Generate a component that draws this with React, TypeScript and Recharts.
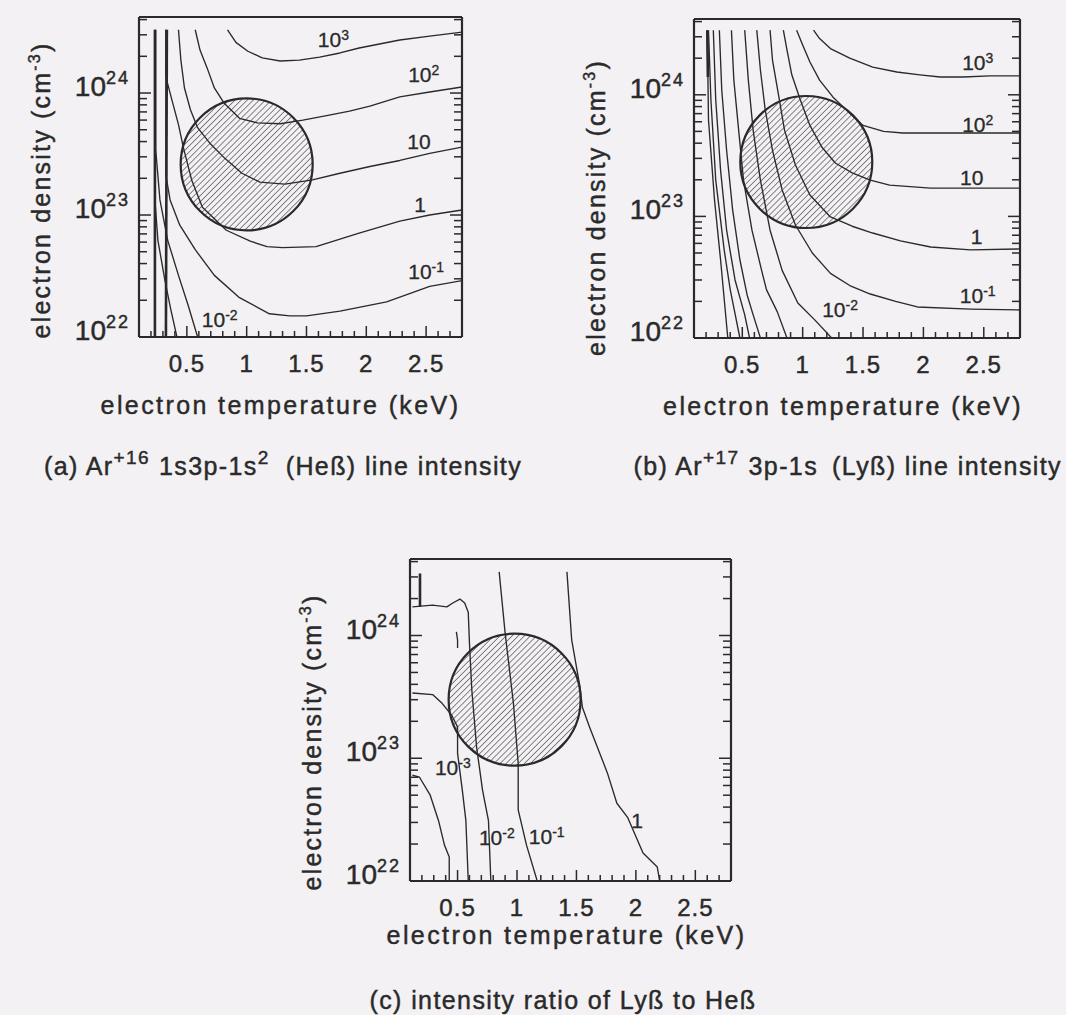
import React from 'react';
import { LineChart, Line, XAxis, YAxis, ReferenceDot } from 'recharts';

type Pt = [number, number]; // [electron temperature keV, electron density cm^-3]

const FONT = '"Liberation Sans", Arial, Helvetica, sans-serif';
const INK = '#2a2a2a';
const PAPER = '#f3f1f3';

// ---- axes ----
const T_DOMAIN: [number, number] = [0.1, 2.8];
const N_DOMAIN: [number, number] = [1e22, 4.2e24];
const T_TICKS = [0.2, 0.3, 0.4, 0.5, 0.6, 0.7, 0.8, 0.9, 1, 1.1, 1.2, 1.3, 1.4, 1.5, 1.6, 1.7, 1.8, 1.9, 2, 2.1, 2.2, 2.3, 2.4, 2.5, 2.6, 2.7];
const T_MAJOR = [0.5, 1, 1.5, 2, 2.5];
const T_LABELS = ['0.5', '1', '1.5', '2', '2.5'];
const N_TICKS = [
  1e22, 2e22, 3e22, 4e22, 5e22, 6e22, 7e22, 8e22, 9e22,
  1e23, 2e23, 3e23, 4e23, 5e23, 6e23, 7e23, 8e23, 9e23,
  1e24, 2e24, 3e24, 4e24,
];
const N_DECADES = [1e22, 1e23, 1e24];
const N_EXPONENTS = ['22', '23', '24'];

// ---- (a) Ar+16 1s3p-1s2 (He-beta) line intensity contours ----
const A_1E3: Pt[] = [[0.84, 3.3e24], [0.91, 2.6e24], [1.01, 2.2e24], [1.13, 1.94e24], [1.28, 1.83e24], [1.44, 1.86e24], [1.61, 1.97e24], [1.78, 2.13e24], [1.94, 2.34e24], [2.28, 2.72e24], [2.53, 2.93e24], [2.8, 3.16e24]];
const A_1E2: Pt[] = [[0.57, 3.3e24], [0.61, 2.25e24], [0.67, 1.6e24], [0.73, 1.1e24], [0.81, 8.3e23], [0.94, 6.2e23], [1.09, 5.7e23], [1.28, 5.6e23], [1.47, 6.0e23], [1.69, 6.6e23], [1.86, 7.1e23], [2.03, 7.8e23], [2.28, 9.3e23], [2.53, 1.02e24], [2.8, 1.12e24]];
const A_1E1: Pt[] = [[0.43, 3.3e24], [0.45, 1.86e24], [0.48, 1.1e24], [0.53, 7.3e23], [0.59, 5.2e23], [0.69, 3.9e23], [0.82, 2.9e23], [0.96, 2.2e23], [1.11, 1.86e23], [1.32, 1.79e23], [1.55, 1.94e23], [1.78, 2.2e23], [2.03, 2.5e23], [2.28, 2.8e23], [2.53, 3.2e23], [2.8, 3.6e23]];
const A_1E0: Pt[] = [[0.325, 3.3e24], [0.325, 1.35e24], [0.375, 8.8e23], [0.43, 5.5e23], [0.47, 3.6e23], [0.54, 1.94e23], [0.63, 1.16e23], [0.83, 7.5e22], [1.03, 6.1e22], [1.17, 5.5e22], [1.3, 5.4e22], [1.58, 5.5e22], [1.94, 7.1e22], [2.28, 8.9e22], [2.53, 1.0e23], [2.8, 1.1e23]];
const A_1EM1: Pt[] = [[0.325, 3.3e24], [0.325, 2.1e23], [0.36, 1.33e23], [0.44, 8.3e22], [0.57, 5.2e22], [0.73, 3.2e22], [0.94, 2.1e22], [1.19, 1.55e22], [1.36, 1.49e22], [1.5, 1.49e22], [1.78, 1.63e22], [2.17, 1.94e22], [2.53, 2.6e22], [2.8, 2.9e22]];
const A_1EM2: Pt[] = [[0.24, 3.3e24], [0.24, 3.4e23], [0.275, 1.33e23], [0.34, 6.2e22], [0.43, 3.2e22], [0.51, 1.83e22], [0.59, 1.0e22]];
const A_1EM3: Pt[] = [[0.233, 3.3e24], [0.233, 1.33e23], [0.258, 6.2e22], [0.317, 2.9e22], [0.367, 1.66e22], [0.417, 1.0e22]];
const A_EDGE1: Pt[] = [[0.233, 3.3e24], [0.233, 1.0e22]];
const A_EDGE2: Pt[] = [[0.333, 3.3e24], [0.325, 1.0e22]];

// ---- (b) Ar+17 3p-1s (Ly-beta) line intensity contours ----
const B_1E3: Pt[] = [[1.09, 3.4e24], [1.14, 2.9e24], [1.23, 2.4e24], [1.39, 2.0e24], [1.58, 1.69e24], [1.78, 1.54e24], [1.97, 1.46e24], [2.14, 1.4e24], [2.33, 1.4e24], [2.55, 1.43e24], [2.8, 1.43e24]];
const B_1E2: Pt[] = [[0.95, 3.4e24], [1.0, 2.57e24], [1.06, 1.86e24], [1.14, 1.32e24], [1.25, 9.6e23], [1.38, 7.2e23], [1.5, 5.6e23], [1.67, 5.0e23], [1.83, 4.85e23], [2.22, 4.85e23], [2.8, 4.85e23]];
const B_1E1: Pt[] = [[0.84, 3.4e24], [0.87, 2.34e24], [0.91, 1.46e24], [0.98, 9.1e23], [1.06, 5.6e23], [1.16, 3.7e23], [1.27, 2.75e23], [1.41, 2.28e23], [1.56, 1.99e23], [1.72, 1.81e23], [2.06, 1.71e23], [2.8, 1.71e23]];
const B_1E0: Pt[] = [[0.73, 3.4e24], [0.75, 1.93e24], [0.8, 1.0e24], [0.85, 5.1e23], [0.94, 2.65e23], [1.06, 1.5e23], [1.23, 9.9e22], [1.41, 8.3e22], [1.58, 7.3e22], [1.81, 6.3e22], [2.06, 5.6e22], [2.39, 5.3e22], [2.8, 5.4e22]];
const B_1EM1: Pt[] = [[0.62, 3.4e24], [0.65, 1.6e24], [0.69, 7.5e23], [0.75, 3.5e23], [0.83, 1.65e23], [0.94, 8.5e22], [1.08, 5.0e22], [1.23, 3.4e22], [1.39, 2.7e22], [1.56, 2.3e22], [1.77, 2.0e22], [1.95, 1.8e22], [2.39, 1.73e22], [2.8, 1.7e22]];
const B_1EM2: Pt[] = [[0.52, 3.4e24], [0.55, 1.32e24], [0.59, 5.1e23], [0.65, 1.99e23], [0.73, 7.7e22], [0.83, 3.6e22], [0.96, 1.94e22], [1.1, 1.41e22], [1.24, 1.0e22]];
const B_1EM3: Pt[] = [[0.41, 3.4e24], [0.43, 1.32e24], [0.47, 5.1e23], [0.51, 1.99e23], [0.58, 7.7e22], [0.66, 3.6e22], [0.7, 2.5e22], [0.79, 1.64e22], [0.87, 1.0e22]];
const B_1EM4: Pt[] = [[0.31, 3.4e24], [0.33, 1.09e24], [0.37, 3.5e23], [0.42, 1.13e23], [0.48, 4.4e22], [0.54, 2.26e22], [0.59, 1.55e22], [0.65, 1.0e22]];
const B_1EM5: Pt[] = [[0.26, 3.4e24], [0.28, 9.1e23], [0.32, 2.4e23], [0.37, 7.7e22], [0.44, 3.0e22], [0.52, 1.55e22], [0.56, 1.0e22]];
const B_1EM6: Pt[] = [[0.22, 3.4e24], [0.24, 9.1e23], [0.28, 1.99e23], [0.35, 5.3e22], [0.4, 2.5e22], [0.48, 1.0e22]];
const B_1EM7: Pt[] = [[0.21, 3.4e24], [0.22, 6.2e23], [0.27, 1.36e23], [0.32, 4.4e22], [0.38, 1.0e22]];
const B_EDGE: Pt[] = [[0.21, 3.4e24], [0.215, 1.4e24]];

// ---- (c) Ly-beta / He-beta intensity ratio contours ----
const C_1E0: Pt[] = [[1.42, 3.3e24], [1.46, 9.2e23], [1.53, 3.8e23], [1.55, 2.6e23], [1.61, 1.8e23], [1.76, 7.6e22], [1.84, 4.3e22], [1.93, 3.3e22], [2.06, 1.69e22], [2.18, 1.3e22], [2.2, 1.0e22]];
const C_1EM1: Pt[] = [[0.85, 3.3e24], [0.9, 1.05e24], [0.97, 2.8e23], [1.01, 9.1e22], [1.01, 3.8e22], [1.08, 1.96e22], [1.17, 1.0e22]];
const C_1EM2: Pt[] = [[0.12, 1.71e24], [0.29, 1.77e24], [0.41, 1.71e24], [0.46, 1.84e24], [0.52, 1.98e24], [0.56, 1.84e24], [0.59, 1.55e24], [0.6, 8.7e23], [0.62, 3.6e23], [0.66, 1.24e23], [0.71, 5.5e22], [0.76, 3.1e22], [0.78, 1.0e22]];
const C_1EM3: Pt[] = [[0.12, 3.4e23], [0.29, 3.3e23], [0.37, 2.8e23], [0.45, 2.25e23], [0.5, 1.8e23], [0.5, 1.1e23], [0.54, 5.5e22], [0.57, 3.1e22], [0.59, 1.0e22]];
const C_1EM4: Pt[] = [[0.12, 7.3e22], [0.18, 7.0e22], [0.27, 5.0e22], [0.34, 3.1e22], [0.39, 1.96e22], [0.43, 1.57e22], [0.43, 1.0e22]];
const C_ISLAND: Pt[] = [[0.49, 1.07e24], [0.5, 9.2e23], [0.5, 7.9e23]];
const C_EDGE: Pt[] = [[0.184, 3.2e24], [0.184, 1.71e24]];

// ---- shaded region (center of the hatched circle) ----
const A_REGION: Pt = [1.0, 2.6e23];
const B_REGION: Pt = [1.03, 2.8e23];
const C_REGION: Pt = [0.98, 3.0e23];

// ---- contour value tags: [T, n, mantissa, exponent] ----
type Tag = [number, number, string, string];
const A_TAGS: Tag[] = [[1.725, 2.72e24, '10', '3'], [2.48, 1.41e24, '10', '2'], [2.44, 3.96e23, '10', ''], [2.45, 1.21e23, '1', ''], [2.5, 3.4e22, '10', '-1'], [0.775, 1.38e22, '10', '-2']];
const B_TAGS: Tag[] = [[2.45, 1.82e24, '10', '3'], [2.45, 5.6e23, '10', '2'], [2.4, 2.07e23, '10', ''], [2.44, 6.8e22, '1', ''], [2.45, 2.2e22, '10', '-1'], [1.31, 1.7e22, '10', '-2']];
const C_TAGS: Tag[] = [[0.46, 8.3e22, '10', '-3'], [0.83, 2.24e22, '10', '-2'], [1.25, 2.28e22, '10', '-1'], [2.01, 3.1e22, '1', '']];

type Curve = { pts: Pt[]; w: number };
const thin = (pts: Pt[]): Curve => ({ pts, w: 1.35 });
const bold = (pts: Pt[]): Curve => ({ pts, w: 2.6 });

type PanelSpec = {
  id: string;
  left: number;
  top: number;
  width: number;
  height: number;
  margin: { top: number; right: number; bottom: number; left: number };
  curves: Curve[];
  region: Pt;
  tags: Tag[];
  xTitleDx: number;
  xTitleDy: number;
  yTitleDy: number;
};

// axes take 1px each, so margins are one pixel short of the frame edges
const PANELS: PanelSpec[] = [
  {
    id: 'a', left: 0, top: 0, width: 482, height: 440,
    margin: { top: 16, right: 19, bottom: 102, left: 138 },
    curves: [bold(A_EDGE1), bold(A_EDGE2), thin(A_1E3), thin(A_1E2), thin(A_1E1), thin(A_1E0), thin(A_1EM1), thin(A_1EM2), thin(A_1EM3)],
    region: A_REGION, tags: A_TAGS, xTitleDx: -20, xTitleDy: 77, yTitleDy: 13,
  },
  {
    id: 'b', left: 540, top: 0, width: 526, height: 440,
    margin: { top: 18, right: 45, bottom: 101, left: 153 },
    curves: [bold(B_EDGE), thin(B_1E3), thin(B_1E2), thin(B_1E1), thin(B_1E0), thin(B_1EM1), thin(B_1EM2), thin(B_1EM3), thin(B_1EM4), thin(B_1EM5), thin(B_1EM6), thin(B_1EM7)],
    region: B_REGION, tags: B_TAGS, xTitleDx: -14, xTitleDy: 77, yTitleDy: 29,
  },
  {
    id: 'c', left: 260, top: 480, width: 500, height: 500,
    margin: { top: 78, right: 28, bottom: 98, left: 149 },
    curves: [bold(C_EDGE), thin(C_1E0), thin(C_1EM1), thin(C_1EM2), thin(C_1EM3), thin(C_1EM4), thin(C_ISLAND)],
    region: C_REGION, tags: C_TAGS, xTitleDx: -4, xTitleDy: 63, yTitleDy: 22,
  },
];

const toRows = (pts: Pt[]) => pts.map(([T, n]) => ({ T, n }));

// text is given a hairline outline so it carries the weight of the printed type
const TEXT = { fontFamily: FONT, fill: INK, stroke: INK, strokeWidth: 0.45 } as const;

function BottomTick(props: any) {
  const { x, y, payload } = props;
  const i = T_MAJOR.indexOf(payload.value);
  return (
    <g>
      <line x1={x} x2={x} y1={y} y2={y - (i >= 0 ? 11 : 6)} stroke={INK} strokeWidth={1.5} />
      {i >= 0 && (
        <text x={x} y={y + 35} textAnchor="middle" fontSize={24} letterSpacing={1} {...TEXT}>
          {T_LABELS[i]}
        </text>
      )}
    </g>
  );
}

function TopTick(props: any) {
  const { x, y, payload } = props;
  const major = T_MAJOR.indexOf(payload.value) >= 0;
  return <line x1={x} x2={x} y1={y} y2={y + (major ? 11 : 6)} stroke={INK} strokeWidth={1.5} />;
}

function LeftTick(props: any) {
  const { x, y, payload } = props;
  const i = N_DECADES.indexOf(payload.value);
  return (
    <g>
      <line x1={x} x2={x + (i >= 0 ? 12 : 8)} y1={y} y2={y} stroke={INK} strokeWidth={1.5} />
      {i >= 0 && (
        <text x={x - 9} y={y + 3} textAnchor="end" fontSize={28} {...TEXT}>
          <tspan>10</tspan>
          <tspan dy={-12} fontSize={18} letterSpacing={2}>{N_EXPONENTS[i]}</tspan>
        </text>
      )}
    </g>
  );
}

function RightTick(props: any) {
  const { x, y, payload } = props;
  const major = N_DECADES.indexOf(payload.value) >= 0;
  return <line x1={x} x2={x - (major ? 12 : 8)} y1={y} y2={y} stroke={INK} strokeWidth={1.5} />;
}

function ContourTag({ cx, cy, base, exp }: { cx: number; cy: number; base: string; exp: string }) {
  return (
    <text x={cx} y={cy + 7} textAnchor="middle" fontSize={21} {...TEXT} strokeWidth={0.3}>
      <tspan>{base}</tspan>
      {exp && <tspan dy={-7} fontSize={14}>{exp}</tspan>}
    </text>
  );
}

function Panel({ spec }: { spec: PanelSpec }) {
  const hatch = `hatch-${spec.id}`;
  const frame = { stroke: INK, strokeWidth: 2.2 };
  return (
    <div style={{ position: 'absolute', left: spec.left, top: spec.top }}>
      <LineChart width={spec.width} height={spec.height} margin={spec.margin}>
        <defs>
          <pattern id={hatch} width={4.3} height={4.3} patternUnits="userSpaceOnUse" patternTransform="rotate(45)">
            <line x1={0} y1={0} x2={0} y2={4.3} stroke="#333" strokeWidth={1.15} />
          </pattern>
        </defs>
        <XAxis
          xAxisId="b" dataKey="T" type="number" domain={T_DOMAIN} ticks={T_TICKS} interval={0}
          allowDataOverflow height={1} tickSize={0} tickMargin={0} tickLine={false} axisLine={frame}
          tick={<BottomTick />}
          label={(p: any) => {
            const vb = p.viewBox;
            return (
              <text x={vb.x + vb.width / 2 + spec.xTitleDx} y={vb.y + spec.xTitleDy} textAnchor="middle"
                fontSize={25} letterSpacing={2.4} {...TEXT}>
                electron temperature (keV)
              </text>
            );
          }}
        />
        <XAxis
          xAxisId="t" orientation="top" type="number" domain={T_DOMAIN} ticks={T_TICKS} interval={0}
          allowDataOverflow height={1} tickSize={0} tickMargin={0} tickLine={false} axisLine={frame}
          tick={<TopTick />}
        />
        <YAxis
          yAxisId="l" type="number" scale="log" domain={N_DOMAIN} ticks={N_TICKS} interval={0}
          allowDataOverflow width={1} tickSize={0} tickMargin={0} tickLine={false} axisLine={frame}
          tick={<LeftTick />}
          label={(p: any) => {
            const vb = p.viewBox;
            const cx = vb.x + vb.width - 89;
            const cy = vb.y + vb.height / 2 + spec.yTitleDy;
            return (
              <text x={cx} y={cy} transform={`rotate(-90 ${cx} ${cy})`} textAnchor="middle"
                fontSize={25} letterSpacing={2.2} {...TEXT}>
                <tspan>electron density (cm</tspan>
                <tspan dy={-10} fontSize={16}>-3</tspan>
                <tspan dy={10}>)</tspan>
              </text>
            );
          }}
        />
        <YAxis
          yAxisId="r" orientation="right" type="number" scale="log" domain={N_DOMAIN} ticks={N_TICKS} interval={0}
          allowDataOverflow width={1} tickSize={0} tickMargin={0} tickLine={false} axisLine={frame}
          tick={<RightTick />}
        />
        {spec.curves.map((c, i) => (
          <Line
            key={`${spec.id}-${i}`} xAxisId="b" yAxisId="l" data={toRows(c.pts)} dataKey="n" type="linear"
            stroke={INK} strokeWidth={c.w} dot={false} activeDot={false} isAnimationActive={false}
            strokeLinejoin="round"
          />
        ))}
        <ReferenceDot
          xAxisId="b" yAxisId="l" x={spec.region[0]} y={spec.region[1]} r={66}
          fill={`url(#${hatch})`} stroke={INK} strokeWidth={2.2} ifOverflow="visible"
        />
        {spec.tags.map((t, i) => (
          <ReferenceDot
            key={`${spec.id}-tag-${i}`} xAxisId="b" yAxisId="l" x={t[0]} y={t[1]} r={1} ifOverflow="visible"
            shape={(p: any) => <ContourTag cx={p.cx} cy={p.cy} base={t[2]} exp={t[3]} />}
          />
        ))}
      </LineChart>
    </div>
  );
}

function Captions() {
  const txt = { ...TEXT, fontSize: 25, letterSpacing: 1.4 } as const;
  return (
    <svg width={1066} height={1015} style={{ position: 'absolute', left: 0, top: 0, pointerEvents: 'none' }}>
      <text x={44} y={475} {...txt}>
        <tspan>(a) Ar</tspan>
        <tspan dy={-11} fontSize={19}>+16</tspan>
        <tspan dy={11} dx={9}>1s3p-1s</tspan>
        <tspan dy={-11} fontSize={19}>2</tspan>
        <tspan dy={11} dx={16}>(Heß) line intensity</tspan>
      </text>
      <text x={1062} y={475} textAnchor="end" {...txt}>
        <tspan>(b) Ar</tspan>
        <tspan dy={-11} fontSize={19}>+17</tspan>
        <tspan dy={11} dx={9}>3p-1s</tspan>
        <tspan dx={14}>(Lyß) line intensity</tspan>
      </text>
      <text x={563} y={1009} textAnchor="middle" {...txt}>(c) intensity ratio of Lyß to Heß</text>
    </svg>
  );
}

export default function App() {
  return (
    <div style={{ position: 'absolute', left: 0, top: 0, width: 1066, height: 1015, background: PAPER, overflow: 'hidden' }}>
      {PANELS.map((p) => (
        <Panel key={p.id} spec={p} />
      ))}
      <Captions />
    </div>
  );
}
